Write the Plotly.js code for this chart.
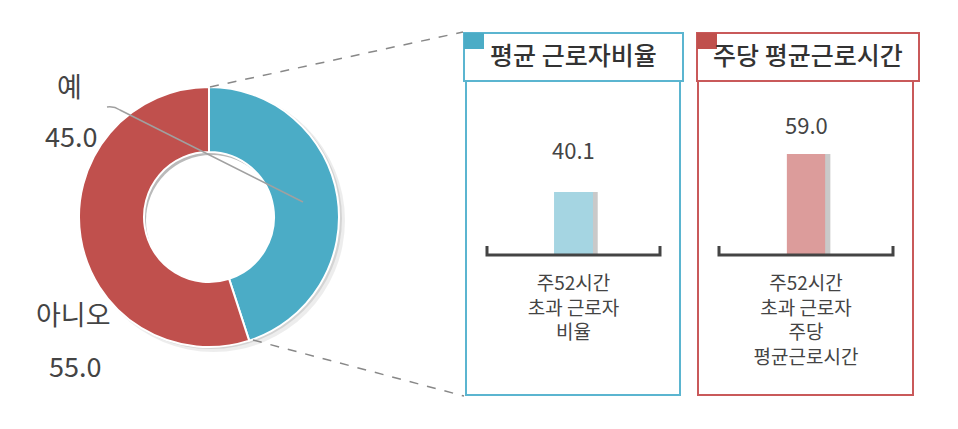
<!DOCTYPE html>
<html>
<head>
<meta charset="utf-8">
<script src="https://cdn.plot.ly/plotly-3.0.1.min.js"></script>
<style>html,body{margin:0;padding:0;background:#fff;}#chart{width:958px;height:429px;}</style>
</head>
<body>
<div id="chart"></div>
<script>
// ---- data ----
const pieLabels = ['예', '아니오'];
const pieValues = [45.0, 55.0];
const panelTitles = ['평균 근로자비율', '주당 평균근로시간'];
const barCats1 = ['주52시간<br>초과 근로자<br>비율'];
const barVals1 = [40.1];
const barCats2 = ['주52시간<br>초과 근로자<br>주당<br>평균근로시간'];
const barVals2 = [59.0];

// ---- helpers (pixel -> paper) ----
const W = 958, H = 429;
const px = x => x / W;
const py = y => 1 - y / H;
const FONT = '"Noto Sans CJK KR", "Noto Sans", sans-serif';
const TXT = '#444';
const BLUE = '#4bacc6', RED = '#c0504d';

const traces = [
  {
    type: 'pie', labels: pieLabels, values: pieValues, hole: 0.5, sort: false,
    direction: 'clockwise', rotation: 0, textinfo: 'none', hoverinfo: 'label+value',
    marker: {colors: [BLUE, RED], line: {color: '#fff', width: 2}},
    domain: {x: [px(79), px(339)], y: [py(347), py(87)]}, showlegend: false
  },
  // shadows
  {type: 'bar', x: barCats1, y: barVals1, xaxis: 'x', yaxis: 'y', width: 0.05, offset: 0.09,
   marker: {color: 'rgba(60,60,60,0.28)'}, hoverinfo: 'skip', showlegend: false},
  {type: 'bar', x: barCats2, y: barVals2, xaxis: 'x2', yaxis: 'y2', width: 0.05, offset: 0.09,
   marker: {color: 'rgba(60,60,60,0.28)'}, hoverinfo: 'skip', showlegend: false},
  // bars
  {type: 'bar', x: barCats1, y: barVals1, xaxis: 'x', yaxis: 'y', width: 0.225,
   marker: {color: '#a5d5e2'}, showlegend: false},
  {type: 'bar', x: barCats2, y: barVals2, xaxis: 'x2', yaxis: 'y2', width: 0.22,
   marker: {color: '#dc9c9b'}, showlegend: false}
];

const axX = dom => ({domain: dom, range: [-0.5, 0.5], showgrid: false, zeroline: false, showline: false,
  ticks: '', ticklabelstandoff: 15, tickfont: {family: FONT, size: 19, color: TXT}, fixedrange: true});
const axY = (R, anchor) => ({domain: [py(255), py(100)], range: [0, R], visible: false, anchor: anchor, fixedrange: true});

const shapes = [
  // donut shadow
  {type: 'circle', xref: 'paper', yref: 'paper', x0: px(82), x1: px(345), y0: py(352), y1: py(89),
   fillcolor: 'rgba(0,0,0,0.07)', line: {width: 0}, layer: 'below'},
  {type: 'circle', xref: 'paper', yref: 'paper', x0: px(80), x1: px(342), y0: py(349), y1: py(88),
   fillcolor: 'rgba(0,0,0,0.10)', line: {width: 0}, layer: 'below'},
  // hole: faint inner shadow then white
  {type: 'circle', xref: 'paper', yref: 'paper', x0: px(143), x1: px(275), y0: py(283), y1: py(151),
   fillcolor: 'rgba(0,0,0,0.12)', line: {width: 0}, layer: 'below'},
  {type: 'circle', xref: 'paper', yref: 'paper', x0: px(146), x1: px(277), y0: py(286), y1: py(155),
   fillcolor: '#fff', line: {width: 0}, layer: 'below'},
  // dashed connectors
  {type: 'line', xref: 'paper', yref: 'paper', x0: px(210), y0: py(87), x1: px(463), y1: py(32),
   line: {color: '#888', width: 1.5, dash: 'dash'}},
  {type: 'line', xref: 'paper', yref: 'paper', x0: px(253), y0: py(340), x1: px(464), y1: py(396),
   line: {color: '#888', width: 1.5, dash: 'dash'}},
  // leader line
  {type: 'path', xref: 'paper', yref: 'paper',
   path: `M ${px(107)} ${py(107)} Q ${px(114)} ${py(106)} ${px(120)} ${py(110)} L ${px(303)} ${py(202)}`,
   line: {color: '#a0a0a0', width: 1.5}},
  // left panel
  {type: 'rect', xref: 'paper', yref: 'paper', x0: px(466), x1: px(680), y0: py(395), y1: py(81),
   line: {color: '#5bb5d0', width: 2}},
  {type: 'rect', xref: 'paper', yref: 'paper', x0: px(464), x1: px(683), y0: py(81), y1: py(33),
   line: {color: '#5bb5d0', width: 2}, fillcolor: '#fff'},
  {type: 'rect', xref: 'paper', yref: 'paper', x0: px(464), x1: px(484), y0: py(49), y1: py(33),
   line: {width: 0}, fillcolor: BLUE},
  // right panel
  {type: 'rect', xref: 'paper', yref: 'paper', x0: px(698), x1: px(913), y0: py(395), y1: py(81),
   line: {color: '#c9595a', width: 2}},
  {type: 'rect', xref: 'paper', yref: 'paper', x0: px(697), x1: px(919), y0: py(81), y1: py(33),
   line: {color: '#c9595a', width: 2}, fillcolor: '#fff'},
  {type: 'rect', xref: 'paper', yref: 'paper', x0: px(697), x1: px(717), y0: py(49), y1: py(33),
   line: {width: 0}, fillcolor: RED},
  // brackets
  {type: 'path', xref: 'paper', yref: 'paper',
   path: `M ${px(487)} ${py(246)} L ${px(487)} ${py(255)} L ${px(660)} ${py(255)} L ${px(660)} ${py(246)}`,
   line: {color: '#444', width: 3}},
  {type: 'path', xref: 'paper', yref: 'paper',
   path: `M ${px(719)} ${py(246)} L ${px(719)} ${py(255)} L ${px(893)} ${py(255)} L ${px(893)} ${py(246)}`,
   line: {color: '#444', width: 3}}
];

const ann = (x, y, text, size, extra) => Object.assign({xref: 'paper', yref: 'paper', x: px(x), y: py(y),
  text: text, showarrow: false, xanchor: 'center', yanchor: 'middle',
  font: {family: FONT, size: size, color: TXT}}, extra || {});

const annotations = [
  ann(69, 85, pieLabels[0], 27),
  ann(71, 135, pieValues[0].toFixed(1), 27),
  ann(73, 313, pieLabels[1], 27),
  ann(75, 365, pieValues[1].toFixed(1), 27),
  ann(573, 54, panelTitles[0], 25, {font: {family: FONT, size: 25, color: '#333', weight: 500}}),
  ann(808, 54, panelTitles[1], 25, {font: {family: FONT, size: 25, color: '#333', weight: 500}}),
  {xref: 'x', yref: 'y', x: barCats1[0], y: barVals1[0], text: barVals1[0].toFixed(1), showarrow: false,
   yanchor: 'bottom', yshift: 25, font: {family: FONT, size: 22, color: TXT}},
  {xref: 'x2', yref: 'y2', x: barCats2[0], y: barVals2[0], text: barVals2[0].toFixed(1), showarrow: false,
   yanchor: 'bottom', yshift: 12, font: {family: FONT, size: 22, color: TXT}}
];

const layout = {
  width: W, height: H, margin: {l: 0, r: 0, t: 0, b: 0},
  paper_bgcolor: '#fff', plot_bgcolor: 'rgba(0,0,0,0)',
  barmode: 'overlay', showlegend: false,
  xaxis: axX([px(487), px(660)]), yaxis: axY(40.1 * 155 / 63, 'x'),
  xaxis2: Object.assign(axX([px(719), px(893)]), {anchor: 'y2'}), yaxis2: axY(59.0 * 155 / 101, 'x2'),
  shapes: shapes, annotations: annotations,
  font: {family: FONT}
};

Plotly.newPlot('chart', traces, layout, {displayModeBar: false, staticPlot: true});
</script>
</body>
</html>
